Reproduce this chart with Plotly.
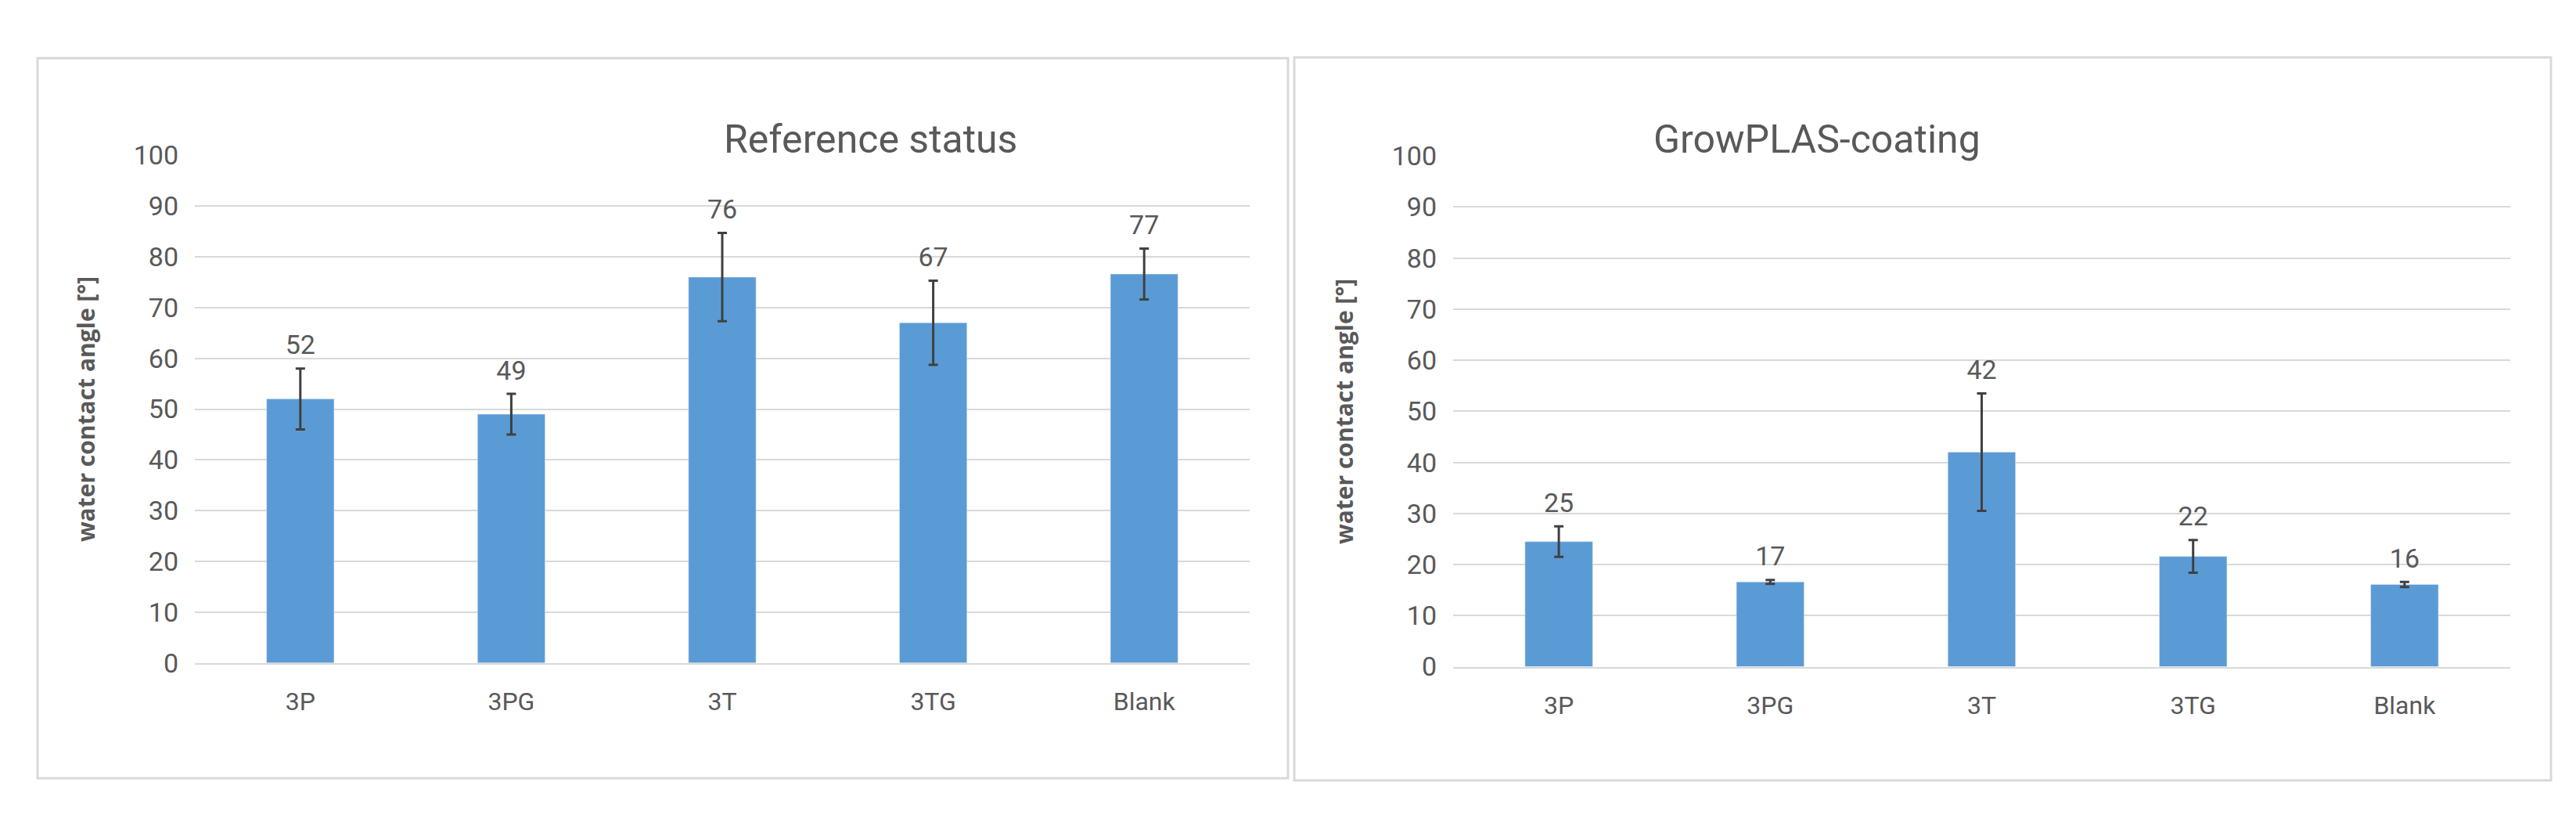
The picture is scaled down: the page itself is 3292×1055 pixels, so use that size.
import plotly.graph_objects as go

cats = ["3P", "3PG", "3T", "3TG", "Blank"]
ref_vals = [52, 49, 76, 67, 76.6]
ref_err = [6, 4, 8.7, 8.3, 5]
ref_labels = ["52", "49", "76", "67", "77"]
coat_vals = [24.5, 16.6, 42, 21.6, 16.1]
coat_err = [3, 0.4, 11.5, 3.2, 0.5]
coat_labels = ["25", "17", "42", "22", "16"]

W, H = 3292, 1055
grey = "#595959"
font = "Liberation Sans Narrow, Roboto, sans-serif"
fig = go.Figure()
for vals, err, labs, xa, ya in [(ref_vals, ref_err, ref_labels, "x", "y"),
                                 (coat_vals, coat_err, coat_labels, "x2", "y2")]:
    fig.add_trace(go.Bar(x=cats, y=vals, xaxis=xa, yaxis=ya, marker_color="#5B9BD5",
                         width=0.32, showlegend=False,
                         error_y=dict(type="data", array=err, color="#404040", thickness=3, width=6)))
    fig.add_trace(go.Scatter(x=cats, y=[v + e + 1.5 for v, e in zip(vals, err)], xaxis=xa, yaxis=ya,
                             mode="text", text=labs, textposition="top center",
                             textfont=dict(size=34, color=grey, family=font), showlegend=False))

ax = dict(showgrid=False, showline=True, linecolor="#d9d9d9", linewidth=2, ticks="", ticklabelstandoff=20,
          tickfont=dict(size=32, color=grey, family=font))
ay = dict(range=[0, 100], dtick=10, showgrid=True, gridcolor="#d9d9d9", gridwidth=2,
          zeroline=False, showline=False, ticklabelstandoff=20, tickfont=dict(size=34, color=grey, family=font),
          title=dict(text="<b>water contact angle [°]</b>", font=dict(size=30, color=grey, family="Open Sans"), standoff=40))
fig.update_layout(
    width=W, height=H, margin=dict(l=0, r=0, t=0, b=0),
    plot_bgcolor="white", paper_bgcolor="white",
    xaxis=dict(domain=[241/W, 1589/W], anchor="y", **ax),
    yaxis=dict(domain=[1-851/H, 1-177/H], anchor="x", **ay),
    xaxis2=dict(domain=[1849/W, 3200/W], anchor="y2", **ax),
    yaxis2=dict(domain=[1-856/H, 1-178/H], anchor="x2", **ay),
    shapes=[dict(type="rect", xref="paper", yref="paper", x0=40/W, x1=1638/W, y0=1-1004/H, y1=1-48/H,
                 line=dict(color="#d9d9d9", width=3)),
            dict(type="rect", xref="paper", yref="paper", x0=1646/W, x1=3252/W, y0=1-1007/H, y1=1-47/H,
                 line=dict(color="#d9d9d9", width=3))],
    annotations=[dict(text="Reference status", x=(241+1589)/2/W, y=1-124/H, xref="paper", yref="paper",
                      showarrow=False, font=dict(size=50, color=grey, family=font)),
                 dict(text="GrowPLAS-coating", x=(1849+3200)/2/W, y=1-124/H, xref="paper", yref="paper",
                      showarrow=False, font=dict(size=50, color=grey, family=font))],
)
fig.write_html("out.html")
